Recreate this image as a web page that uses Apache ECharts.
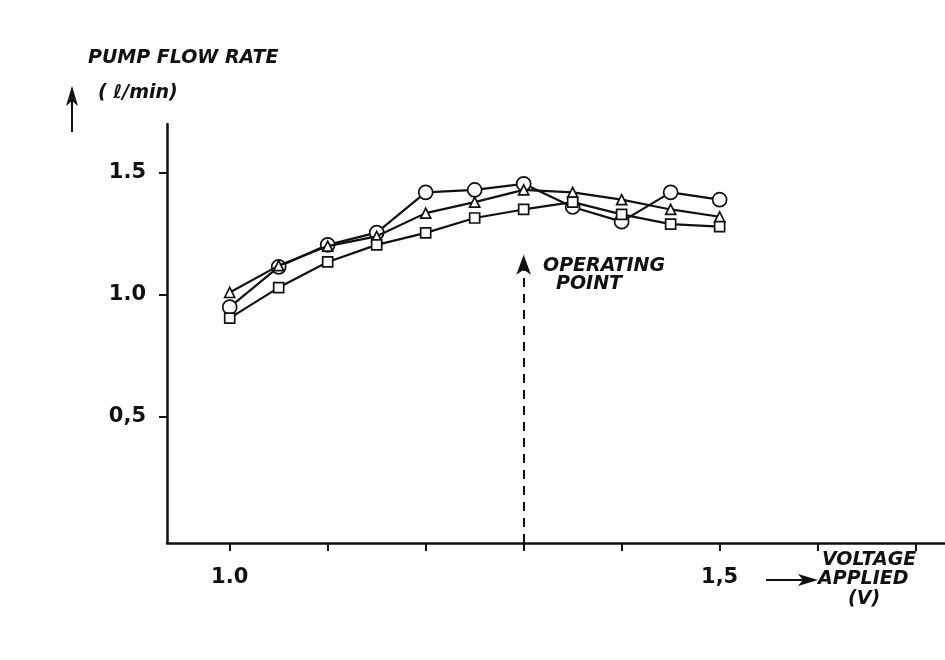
<!DOCTYPE html>
<html>
<head>
<meta charset="utf-8">
<script src="https://cdn.jsdelivr.net/npm/echarts@6/dist/echarts.min.js"></script>
<style>html,body{margin:0;padding:0;background:#fff}#c{width:945px;height:660px}</style>
</head>
<body>
<div id="c"></div>
<script>
// Data
var voltages = [1.0, 1.05, 1.1, 1.15, 1.2, 1.25, 1.3, 1.35, 1.4, 1.45, 1.5];
var circleFlow   = [0.95, 1.115, 1.205, 1.255, 1.42, 1.43, 1.455, 1.36, 1.30, 1.42, 1.39];
var triangleFlow = [1.01, 1.12, 1.20, 1.24, 1.335, 1.38, 1.43, 1.42, 1.39, 1.35, 1.32];
var squareFlow   = [0.905, 1.03, 1.135, 1.205, 1.254, 1.315, 1.35, 1.38, 1.33, 1.29, 1.28];
var xTickValues = [1.0, 1.1, 1.2, 1.3, 1.4, 1.5, 1.6, 1.7];
var xLabelValues = [1.0, 1.5];
var xLabelText = {"1": "1.0", "1.5": "1,5"};
var yTickValues = [0.5, 1.0, 1.5];
var yLabelText = {"0.5": "0,5", "1": "1.0", "1.5": "1.5"};
var operatingPoint = 1.3;
var operatingArrowTop = 1.165;

function pairs(ys){ return voltages.map(function(x,i){ return [x, ys[i]]; }); }

var chart = echarts.init(document.getElementById('c'), null, {renderer:'canvas'});
var lineStyle = {color:'#111', width:2.2};
var itemStyle = {color:'#fff', borderColor:'#111', borderWidth:1.7};
var titleFont = {fontFamily:'DejaVu Sans', fontStyle:'italic', fontWeight:'bold', fontSize:19, fill:'#111'};
var tickFont = {fontFamily:'DejaVu Sans', fontWeight:'bold', fontSize:21, color:'#111'};

chart.setOption({
  backgroundColor:'#fff',
  animation:false,
  grid:{left:167, right:0, top:124, bottom:117, containLabel:false},
  xAxis:{
    type:'value', min:0.936, max:1.73,
    axisLine:{show:true, onZero:false, lineStyle:{color:'#111', width:2.5}},
    axisTick:{show:true, customValues:xTickValues, length:8, lineStyle:{color:'#111', width:2}},
    axisLabel:Object.assign({show:true, customValues:xLabelValues, margin:24,
      formatter:function(v){ return xLabelText[String(v)] || ''; }}, tickFont),
    splitLine:{show:false}
  },
  yAxis:{
    type:'value', min:-0.016, max:1.7,
    axisLine:{show:true, onZero:false, lineStyle:{color:'#111', width:2.5}},
    axisTick:{show:true, customValues:yTickValues, length:8, lineStyle:{color:'#111', width:2}},
    axisLabel:Object.assign({show:true, customValues:yTickValues, margin:21,
      formatter:function(v){ return yLabelText[String(v)] || ''; }}, tickFont),
    splitLine:{show:false}
  },
  series:[
    {type:'line', name:'circle', data:pairs(circleFlow), symbol:'circle', symbolSize:14,
     lineStyle:lineStyle, itemStyle:itemStyle, z:3,
     markLine:{silent:true, symbol:['none','arrow'], symbolSize:[11,20],
       lineStyle:{color:'#111', type:[9,7], width:2},
       label:{show:false},
       data:[[{coord:[operatingPoint, -0.016]},{coord:[operatingPoint, operatingArrowTop]}]]}},
    {type:'line', name:'triangle', data:pairs(triangleFlow), symbol:'triangle', symbolSize:10,
     lineStyle:lineStyle, itemStyle:itemStyle, z:4},
    {type:'line', name:'square', data:pairs(squareFlow), symbol:'rect', symbolSize:10,
     lineStyle:lineStyle, itemStyle:itemStyle, z:5}
  ],
  graphic:[
    {type:'text', left:88, top:49, style:Object.assign({text:'PUMP FLOW RATE'}, titleFont)},
    {type:'text', left:98, top:84, style:Object.assign({text:'( \u2113/min)'}, titleFont)},
    // y arrow
    {type:'line', shape:{x1:72, y1:132, x2:72, y2:100}, style:{stroke:'#111', lineWidth:2}},
    {type:'polygon', shape:{points:[[72,86],[66,106],[72,101],[78,106]]}, style:{fill:'#111'}},
    {type:'text', left:543, top:257, style:Object.assign({text:'OPERATING'}, titleFont)},
    {type:'text', left:556, top:275, style:Object.assign({text:'POINT'}, titleFont)},
    {type:'text', left:822, top:551, style:Object.assign({text:'VOLTAGE'}, titleFont)},
    {type:'text', left:818, top:570, style:Object.assign({text:'APPLIED'}, titleFont)},
    {type:'text', left:848, top:590, style:Object.assign({text:'(V)'}, titleFont)},
    // x arrow
    {type:'line', shape:{x1:766, y1:580, x2:804, y2:580}, style:{stroke:'#111', lineWidth:2}},
    {type:'polygon', shape:{points:[[818,580],[798,574],[803,580],[798,586]]}, style:{fill:'#111'}}
  ]
});
</script>
</body>
</html>
